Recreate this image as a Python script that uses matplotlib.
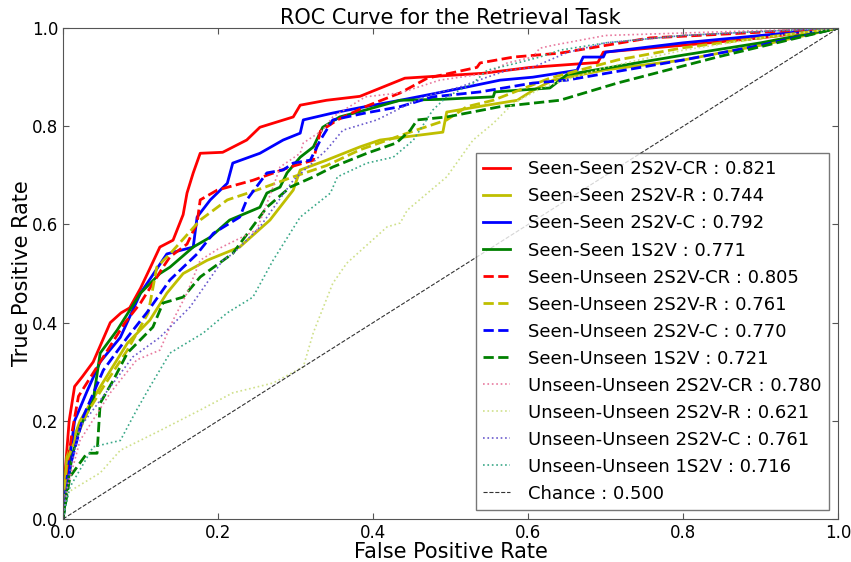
import matplotlib
matplotlib.use('Agg')
import matplotlib.pyplot as plt

# ROC points (false positive rate, true positive rate)
ss_cr_fpr = [0, 0.003, 0.008, 0.015, 0.025, 0.039, 0.05, 0.061, 0.075, 0.086, 0.1, 0.112, 0.125, 0.142, 0.155, 0.16,
             0.168, 0.177, 0.206, 0.237, 0.254, 0.297, 0.306, 0.34, 0.383, 0.441, 0.542, 0.603, 0.69, 0.697, 0.8, 0.9, 1.0]
ss_cr_tpr = [0, 0.1, 0.2, 0.27, 0.29, 0.32, 0.36, 0.40, 0.42, 0.43, 0.47, 0.51, 0.554, 0.568, 0.62, 0.664,
             0.705, 0.745, 0.747, 0.772, 0.798, 0.819, 0.843, 0.853, 0.861, 0.898, 0.908, 0.92, 0.93, 0.951, 0.965, 0.98, 1.0]

ss_r_fpr = [0, 0.005, 0.022, 0.048, 0.083, 0.112, 0.134, 0.155, 0.186, 0.228, 0.267, 0.297, 0.306, 0.34, 0.383,
            0.409, 0.49, 0.495, 0.547, 0.586, 0.606, 0.632, 0.7, 0.8, 0.9, 1.0]
ss_r_tpr = [0, 0.126, 0.2, 0.269, 0.358, 0.405, 0.46, 0.5, 0.527, 0.554, 0.609, 0.67, 0.711, 0.731, 0.758,
            0.772, 0.788, 0.829, 0.843, 0.853, 0.873, 0.894, 0.915, 0.935, 0.965, 1.0]

ss_c_fpr = [0, 0.005, 0.015, 0.031, 0.048, 0.074, 0.1, 0.134, 0.168, 0.173, 0.19, 0.212, 0.219, 0.254, 0.284,
            0.306, 0.31, 0.348, 0.39, 0.435, 0.477, 0.521, 0.564, 0.606, 0.663, 0.671, 0.697, 0.7, 0.8, 0.9, 1.0]
ss_c_tpr = [0, 0.08, 0.2, 0.26, 0.32, 0.37, 0.46, 0.54, 0.554, 0.615, 0.65, 0.684, 0.725, 0.745, 0.772,
            0.786, 0.813, 0.827, 0.84, 0.853, 0.866, 0.88, 0.894, 0.9, 0.914, 0.941, 0.941, 0.951, 0.97, 0.985, 1.0]

ss_1_fpr = [0, 0.005, 0.012, 0.022, 0.039, 0.048, 0.07, 0.1, 0.125, 0.138, 0.168, 0.19, 0.215, 0.254, 0.263,
            0.28, 0.289, 0.306, 0.323, 0.335, 0.357, 0.383, 0.435, 0.49, 0.555, 0.557, 0.628, 0.65, 0.8, 0.9, 1.0]
ss_1_tpr = [0, 0.06, 0.13, 0.187, 0.242, 0.338, 0.385, 0.46, 0.5, 0.513, 0.554, 0.574, 0.609, 0.635, 0.664,
            0.676, 0.705, 0.737, 0.758, 0.798, 0.819, 0.83, 0.853, 0.855, 0.86, 0.87, 0.878, 0.905, 0.945, 0.97, 1.0]

su_cr_fpr = [0, 0.005, 0.012, 0.02, 0.04, 0.06, 0.08, 0.1, 0.12, 0.129, 0.138, 0.16, 0.173, 0.177, 0.199, 0.245,
             0.293, 0.323, 0.332, 0.354, 0.39, 0.435, 0.47, 0.534, 0.538, 0.581, 0.641, 0.757, 0.88, 1.0]
su_cr_tpr = [0, 0.1, 0.18, 0.25, 0.3, 0.35, 0.4, 0.44, 0.49, 0.513, 0.534, 0.56, 0.603, 0.65, 0.67, 0.69,
             0.717, 0.731, 0.79, 0.813, 0.84, 0.868, 0.898, 0.92, 0.929, 0.941, 0.949, 0.98, 0.99, 1.0]

su_r_fpr = [0, 0.005, 0.031, 0.052, 0.083, 0.11, 0.121, 0.138, 0.177, 0.212, 0.25, 0.297, 0.34, 0.383, 0.444,
            0.495, 0.521, 0.555, 0.628, 0.715, 0.8, 0.9, 1.0]
su_r_tpr = [0, 0.12, 0.216, 0.269, 0.344, 0.42, 0.513, 0.54, 0.609, 0.65, 0.67, 0.697, 0.72, 0.752, 0.786,
            0.813, 0.84, 0.853, 0.898, 0.935, 0.96, 0.98, 1.0]

su_c_fpr = [0, 0.009, 0.026, 0.052, 0.083, 0.108, 0.138, 0.173, 0.194, 0.228, 0.237, 0.263, 0.284, 0.297, 0.319,
            0.332, 0.348, 0.39, 0.435, 0.477, 0.538, 0.606, 0.65, 0.8, 0.9, 1.0]
su_c_tpr = [0, 0.106, 0.208, 0.303, 0.37, 0.42, 0.487, 0.54, 0.582, 0.615, 0.65, 0.705, 0.711, 0.725, 0.731,
            0.772, 0.813, 0.827, 0.84, 0.86, 0.87, 0.888, 0.894, 0.935, 0.965, 1.0]

su_1_fpr = [0, 0.009, 0.031, 0.044, 0.048, 0.065, 0.083, 0.116, 0.129, 0.155, 0.177, 0.219, 0.263, 0.293, 0.323,
            0.348, 0.392, 0.43, 0.448, 0.457, 0.495, 0.564, 0.641, 0.715, 0.844, 1.0]
su_1_tpr = [0, 0.086, 0.134, 0.134, 0.236, 0.283, 0.338, 0.391, 0.44, 0.452, 0.493, 0.541, 0.635, 0.676, 0.697,
            0.717, 0.745, 0.766, 0.792, 0.813, 0.819, 0.84, 0.853, 0.888, 0.941, 1.0]

uu_cr_fpr = [0, 0.005, 0.022, 0.061, 0.095, 0.125, 0.142, 0.16, 0.177, 0.2, 0.25, 0.271, 0.28, 0.306, 0.31, 0.335,
             0.348, 0.39, 0.435, 0.486, 0.547, 0.573, 0.606, 0.615, 0.632, 0.7, 0.8, 0.9, 1.0]
uu_cr_tpr = [0, 0.06, 0.16, 0.257, 0.324, 0.344, 0.405, 0.46, 0.527, 0.55, 0.589, 0.676, 0.717, 0.745, 0.766,
             0.792, 0.819, 0.86, 0.868, 0.894, 0.908, 0.929, 0.941, 0.959, 0.965, 0.985, 0.99, 0.995, 1.0]

uu_r_fpr = [0, 0.005, 0.048, 0.074, 0.125, 0.177, 0.219, 0.271, 0.31, 0.323, 0.348, 0.366, 0.418, 0.435, 0.444,
            0.495, 0.529, 0.555, 0.581, 0.62, 0.7, 0.8, 0.9, 1.0]
uu_r_tpr = [0, 0.053, 0.094, 0.14, 0.18, 0.222, 0.257, 0.277, 0.31, 0.38, 0.48, 0.521, 0.595, 0.603, 0.629,
            0.697, 0.772, 0.806, 0.847, 0.88, 0.92, 0.955, 0.98, 1.0]

uu_c_fpr = [0, 0.005, 0.022, 0.061, 0.09, 0.125, 0.164, 0.206, 0.219, 0.254, 0.297, 0.34, 0.361, 0.405, 0.448,
            0.477, 0.512, 0.547, 0.573, 0.606, 0.65, 0.7, 0.8, 0.9, 1.0]
uu_c_tpr = [0, 0.07, 0.187, 0.269, 0.33, 0.37, 0.432, 0.527, 0.54, 0.595, 0.69, 0.752, 0.792, 0.813, 0.847,
            0.866, 0.88, 0.9, 0.914, 0.92, 0.95, 0.97, 0.985, 0.993, 1.0]

uu_1_fpr = [0, 0.009, 0.039, 0.074, 0.095, 0.112, 0.138, 0.181, 0.212, 0.245, 0.271, 0.306, 0.345, 0.354, 0.392,
            0.426, 0.452, 0.477, 0.495, 0.529, 0.547, 0.586, 0.615, 0.641, 0.7, 0.8, 0.9, 1.0]
uu_1_tpr = [0, 0.065, 0.147, 0.16, 0.222, 0.269, 0.338, 0.379, 0.42, 0.452, 0.527, 0.615, 0.664, 0.697, 0.725,
            0.737, 0.772, 0.833, 0.86, 0.888, 0.914, 0.929, 0.941, 0.955, 0.97, 0.985, 0.993, 1.0]

chance = [0, 1]

labels = ['Seen-Seen 2S2V-CR : 0.821', 'Seen-Seen 2S2V-R : 0.744', 'Seen-Seen 2S2V-C : 0.792',
          'Seen-Seen 1S2V : 0.771', 'Seen-Unseen 2S2V-CR : 0.805', 'Seen-Unseen 2S2V-R : 0.761',
          'Seen-Unseen 2S2V-C : 0.770', 'Seen-Unseen 1S2V : 0.721', 'Unseen-Unseen 2S2V-CR : 0.780',
          'Unseen-Unseen 2S2V-R : 0.621', 'Unseen-Unseen 2S2V-C : 0.761', 'Unseen-Unseen 1S2V : 0.716',
          'Chance : 0.500']

curves = [(ss_cr_fpr, ss_cr_tpr), (ss_r_fpr, ss_r_tpr), (ss_c_fpr, ss_c_tpr), (ss_1_fpr, ss_1_tpr),
          (su_cr_fpr, su_cr_tpr), (su_r_fpr, su_r_tpr), (su_c_fpr, su_c_tpr), (su_1_fpr, su_1_tpr),
          (uu_cr_fpr, uu_cr_tpr), (uu_r_fpr, uu_r_tpr), (uu_c_fpr, uu_c_tpr), (uu_1_fpr, uu_1_tpr)]
colors = ['r', 'y', 'b', 'g', 'r', 'y', 'b', 'g', '#e8799e', '#cfe08a', '#6a5acd', '#3aa888']
styles = ['-'] * 4 + ['--'] * 4 + [':'] * 4
widths = [2] * 8 + [1.2] * 4

fig = plt.figure(figsize=(8.51, 5.62), dpi=100)
ax = fig.add_axes([0.074, 0.0765, 0.911, 0.8735])

for (fpr, tpr), c, ls, lw, lab in zip(curves, colors, styles, widths, labels):
    ax.plot(fpr, tpr, color=c, linestyle=ls, linewidth=lw, label=lab)
ax.plot(chance, chance, color='#333333', linestyle='--', linewidth=0.8, label=labels[-1])

ax.set_xlim(0, 1)
ax.set_ylim(0, 1)
ax.set_xticks([0, 0.2, 0.4, 0.6, 0.8, 1.0])
ax.set_yticks([0, 0.2, 0.4, 0.6, 0.8, 1.0])
ax.tick_params(direction='in', top=True, right=True, labelsize=12, length=4, color='#555555')
for s in ax.spines.values():
    s.set_color('#555555')

ax.set_title('ROC Curve for the Retrieval Task', fontsize=15, pad=3)
ax.set_xlabel('False Positive Rate', fontsize=15, labelpad=0)
ax.set_ylabel('True Positive Rate', fontsize=15, labelpad=0)
leg = ax.legend(loc='lower right', fontsize=13, fancybox=False, handlelength=1.5,
                handletextpad=1.0, labelspacing=0.5, borderpad=0.4)
leg.get_frame().set_edgecolor('#555555')

fig.savefig('out.png', dpi=100)
